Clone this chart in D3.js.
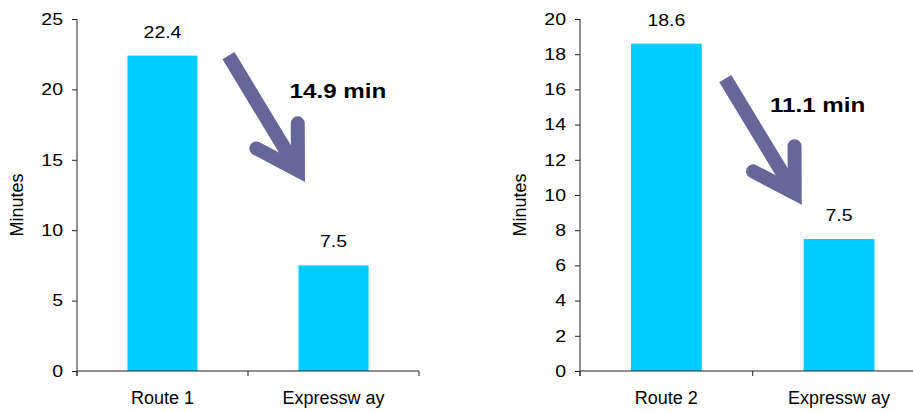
<!DOCTYPE html>
<html>
<head>
<meta charset="utf-8">
<script src="https://cdn.jsdelivr.net/npm/d3@7"></script>
<style>
  html, body { margin: 0; padding: 0; background: #fff; }
  svg { display: block; }
  text { font-family: "Liberation Sans", Arial, sans-serif; fill: #000; }
</style>
</head>
<body>
<svg id="chart" width="913" height="412"></svg>
<script>
// Travel times (minutes) for each route compared with the expressway
const leftCategories = ["Route 1", "Expressway"];
const leftValues = [22.4, 7.5];
const leftTicks = [0, 5, 10, 15, 20, 25];
const leftSaving = "14.9 min";

const rightCategories = ["Route 2", "Expressway"];
const rightValues = [18.6, 7.5];
const rightTicks = [0, 2, 4, 6, 8, 10, 12, 14, 16, 18, 20];
const rightSaving = "11.1 min";

const svg = d3.select("#chart");
const barColor = "#00CCFF";
const arrowColor = "#666699";
const axisColor = "#222";
const numStretch = 1.18; // numbers are set a little wide

function panel(cfg) {
  const g = svg.append("g");
  const x = d3.scaleBand()
    .domain(cfg.categories)
    .range([cfg.x0, cfg.x1])
    .paddingInner(0.59)
    .paddingOuter(0.295);
  const y = d3.scaleLinear()
    .domain([0, cfg.ticks[cfg.ticks.length - 1]])
    .range([cfg.y0, cfg.y1]);
  // horizontal position inside the plot as a 0..1 fraction
  const fx = d3.scaleLinear().domain([0, 1]).range([cfg.x0, cfg.x1]);

  // bars
  g.selectAll("rect.bar")
    .data(cfg.values)
    .join("rect")
    .attr("class", "bar")
    .attr("x", (d, i) => x(cfg.categories[i]))
    .attr("width", x.bandwidth())
    .attr("y", d => y(d))
    .attr("height", d => y(0) - y(d))
    .attr("fill", barColor);

  // value labels
  g.selectAll("text.val")
    .data(cfg.values)
    .join("text")
    .attr("class", "val")
    .attr("transform", (d, i) =>
      `translate(${x(cfg.categories[i]) + x.bandwidth() / 2},${y(d) - 18}) scale(${numStretch},1)`)
    .attr("text-anchor", "middle")
    .style("font-size", "16.5px")
    .text(d => d.toFixed(1));

  // y axis
  const yAxis = d3.axisLeft(y)
    .tickValues(cfg.ticks)
    .tickSize(5)
    .tickPadding(8)
    .tickFormat(d3.format("d"));
  const ya = g.append("g")
    .attr("transform", `translate(${cfg.x0},0)`)
    .call(yAxis);
  ya.select(".domain").attr("d", `M0,${cfg.y1}V${cfg.y0 + 5}`).attr("stroke", axisColor);
  ya.selectAll(".tick line").attr("stroke", axisColor);
  ya.selectAll(".tick text")
    .attr("x", null)
    .attr("transform", `translate(-14,0) scale(${numStretch},1)`)
    .style("font-size", "16.5px")
    .style("font-family", "'Liberation Sans', Arial, sans-serif")
    .attr("fill", "#000");

  // x axis: baseline, boundary ticks, category labels
  const xa = g.append("g");
  xa.append("line")
    .attr("x1", cfg.x0).attr("x2", cfg.x1)
    .attr("y1", y(0)).attr("y2", y(0))
    .attr("stroke", axisColor);
  const bounds = cfg.categories.map((c, i) => cfg.x0 + i * x.step()).concat([cfg.x1]);
  xa.selectAll("line.xt")
    .data(bounds)
    .join("line")
    .attr("class", "xt")
    .attr("x1", d => d).attr("x2", d => d)
    .attr("y1", y(0)).attr("y2", y(0) + 5)
    .attr("stroke", axisColor);
  const cat = xa.selectAll("text.cat")
    .data(cfg.categories)
    .join("text")
    .attr("class", "cat")
    .attr("x", d => x(d) + x.bandwidth() / 2)
    .attr("y", y(0) + 33)
    .attr("text-anchor", "middle")
    .style("font-size", "18px");
  // "Expressway" is set with a loose gap before "ay"
  cat.each(function (d) {
    const t = d3.select(this);
    const m = d.match(/^(Expressw)(ay)$/);
    if (m) {
      t.append("tspan").text(m[1]);
      t.append("tspan").attr("dx", 5).text(m[2]);
    } else {
      t.text(d);
    }
  });

  // axis title
  g.append("text")
    .attr("transform", `translate(${cfg.titleX},${(cfg.y0 + cfg.y1) / 2 + 10}) rotate(-90)`)
    .attr("text-anchor", "middle")
    .style("font-size", "18px")
    .text("Minutes");

  // downward arrow showing the time saved
  const tipX = fx(cfg.arrow.fx), tipY = y(cfg.arrow.value);
  const rad = Math.PI / 180;
  const shaftAng = 58.8 * rad, shaftLen = 134, headLen = 47, half = 31 * rad;
  const ag = g.append("g").attr("fill", "none").attr("stroke", arrowColor).attr("stroke-width", 14);
  ag.append("line")
    .attr("x1", tipX - shaftLen * Math.cos(shaftAng))
    .attr("y1", tipY - shaftLen * Math.sin(shaftAng))
    .attr("x2", tipX).attr("y2", tipY)
    .attr("stroke-linecap", "butt");
  const back = shaftAng + Math.PI;
  const b1 = [tipX + headLen * Math.cos(back - half), tipY + headLen * Math.sin(back - half)];
  const b2 = [tipX + headLen * Math.cos(back + half), tipY + headLen * Math.sin(back + half)];
  ag.append("path")
    .attr("d", d3.line()([b1, [tipX, tipY], b2]))
    .attr("stroke-linejoin", "miter")
    .attr("stroke-linecap", "round");

  g.append("text")
    .attr("transform", `translate(${fx(cfg.label.fx)},${y(cfg.label.value)}) scale(${numStretch},1)`)
    .attr("text-anchor", "middle")
    .style("font-size", "20.5px")
    .style("font-weight", "bold")
    .text(cfg.saving);
}

panel({
  categories: leftCategories, values: leftValues, ticks: leftTicks, saving: leftSaving,
  x0: 77, x1: 419, y0: 371, y1: 19, titleX: 23,
  arrow: { fx: 0.646, value: 14.25 },
  label: { fx: 0.763, value: 19.42 }
});

panel({
  categories: rightCategories, values: rightValues, ticks: rightTicks, saving: rightSaving,
  x0: 580, x1: 925.4, y0: 371, y1: 19, titleX: 526,
  arrow: { fx: 0.6216, value: 10.10 },
  label: { fx: 0.688, value: 14.74 }
});
</script>
</body>
</html>
